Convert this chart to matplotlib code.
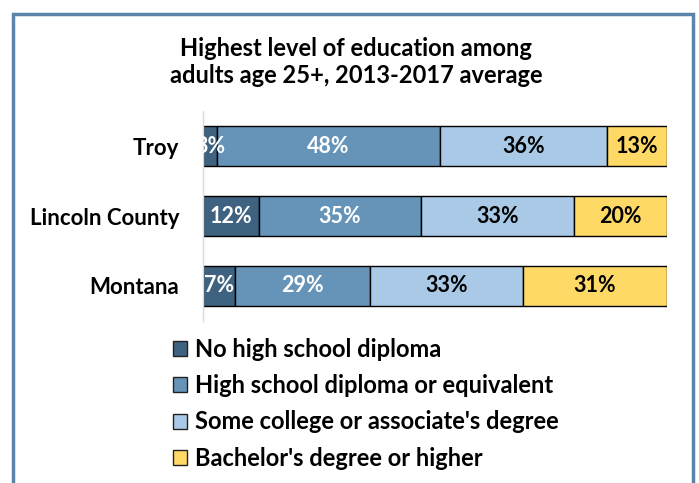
import matplotlib.pyplot as plt
from matplotlib.patches import Rectangle

plt.rcParams['font.family'] = ['Lato', 'DejaVu Sans']
plt.rcParams['font.weight'] = 'bold'

# data
places = ['Troy', 'Lincoln County', 'Montana']
levels = ['No high school diploma',
          'High school diploma or equivalent',
          "Some college or associate's degree",
          "Bachelor's degree or higher"]
no_diploma = [3, 12, 7]
high_school = [48, 35, 29]
some_college = [36, 33, 33]
bachelor = [13, 20, 31]

colors = ['#3E6280', '#6694B8', '#A9C9E7', '#FFD966']
label_colors = ['white', 'white', 'black', 'black']

fig = plt.figure(figsize=(6.99, 4.83), dpi=100)
ax = fig.add_axes([203 / 699, 1 - 321 / 483, 464 / 699, 210 / 483])

series = [no_diploma, high_school, some_college, bachelor]
left = [0, 0, 0]
ypos = list(range(len(places)))
for vals, lev, col, lcol in zip(series, levels, colors, label_colors):
    bars = ax.barh(ypos, vals, left=left, height=0.57, color=col,
                   edgecolor='black', linewidth=1.0, label=lev)
    for b, v in zip(bars, vals):
        t = ax.text(b.get_x() + b.get_width() / 2, b.get_y() + b.get_height() / 2,
                    f'{v}%', ha='center', va='center', color=lcol,
                    fontsize=15.5, fontweight='bold')
        t.set_clip_on(True)
    left = [l + v for l, v in zip(left, vals)]

ax.set_xlim(0, 100)
ax.set_ylim(2.5, -0.5)
ax.set_yticks(ypos)
ax.set_yticklabels(places, fontsize=16, fontweight='bold')
ax.set_xticks([])
ax.tick_params(axis='y', length=0, pad=17)
for s in ['top', 'right', 'bottom']:
    ax.spines[s].set_visible(False)
ax.spines['left'].set_color('#D9D9D9')
ax.spines['left'].set_linewidth(1.0)

fig.text(356 / 699, 1 - 62 / 483,
         'Highest level of education among\nadults age 25+, 2013-2017 average',
         ha='center', va='center', fontsize=17, fontweight='bold',
         linespacing=1.2)

leg = fig.legend(loc='upper left', bbox_to_anchor=(173 / 699, 1 - 338 / 483),
                 frameon=False, fontsize=17, handlelength=0.6,
                 handleheight=0.6, handletextpad=0.35, labelspacing=0.56,
                 borderpad=0, borderaxespad=0)
for h in leg.legend_handles:
    h.set_edgecolor('#222222')
    h.set_linewidth(1.0)

frame = Rectangle((13 / 699, -0.1), (693 - 13) / 699, 1 - 14 / 483 + 0.1,
                  transform=fig.transFigure, fill=False,
                  edgecolor='#5A84AA', linewidth=2.5)
fig.patches.append(frame)

fig.savefig('out.png', dpi=100)
